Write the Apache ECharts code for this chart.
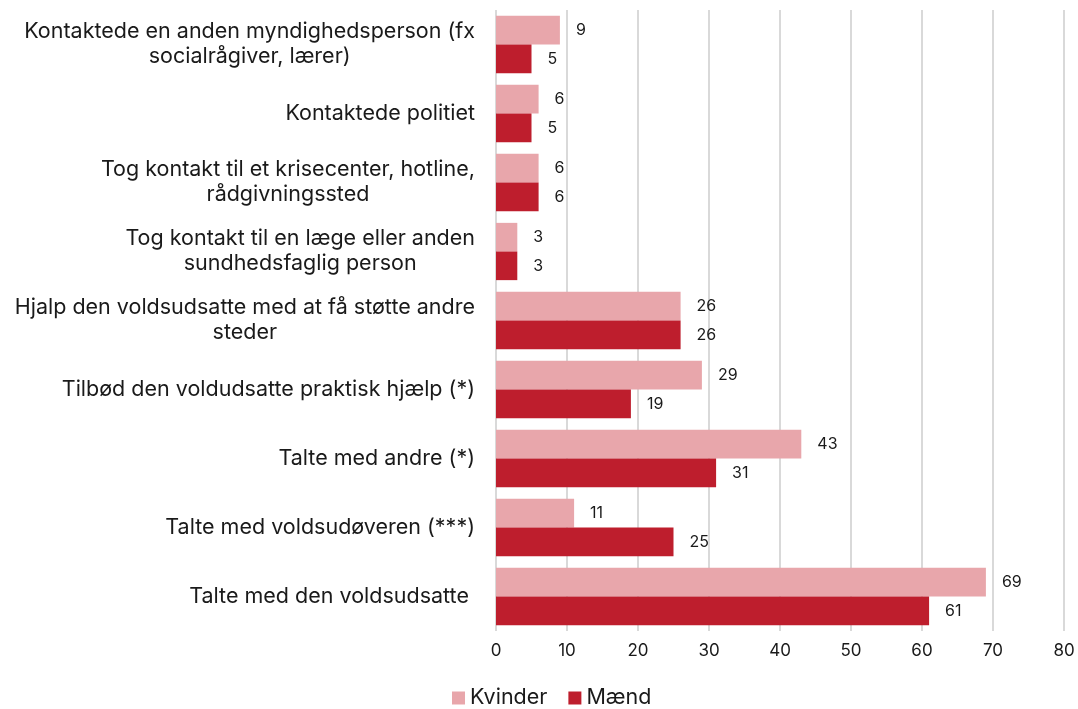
<!DOCTYPE html>
<html><head><meta charset="utf-8">
<script src="https://cdn.jsdelivr.net/npm/echarts@6/dist/echarts.min.js"></script>
<style>html,body{margin:0;padding:0;background:#fff}#c{width:1078px;height:709px}</style>
</head><body><div id="c"></div>
<script>
const categories = [
  "Kontaktede en anden myndighedsperson (fx\nsocialrågiver, lærer)",
  "Kontaktede politiet",
  "Tog kontakt til et krisecenter, hotline,\nrådgivningssted",
  "Tog kontakt til en læge eller anden\nsundhedsfaglig person",
  "Hjalp den voldsudsatte med at få støtte andre\nsteder",
  "Tilbød den voldudsatte praktisk hjælp (*)",
  "Talte med andre (*)",
  "Talte med voldsudøveren (***)",
  "Talte med den voldsudsatte "
];
const kvinder = [9, 6, 6, 3, 26, 29, 43, 11, 69];
const maend = [5, 5, 6, 3, 26, 19, 31, 25, 61];
const seriesNames = ["Kvinder", "Mænd"];
const xTicks = {min: 0, max: 80, interval: 10};

const font = "Inter, 'Noto Sans', sans-serif";
const chart = echarts.init(document.getElementById('c'), null, {renderer: 'canvas'});
const labelCfg = {show: true, position: 'right', distance: 16, color: '#1a1a1a', fontSize: 16, fontFamily: font};
chart.setOption({
  animation: false,
  grid: {left: 496, right: 14, top: 10, bottom: 78, containLabel: false},
  legend: {
    bottom: 0, left: 452, padding: 0, itemWidth: 13, itemHeight: 13, itemGap: 21,
    icon: 'rect',
    textStyle: {fontSize: 21.5, color: '#1a1a1a', fontFamily: font, padding: [0, 0, 0, 0]},
    data: seriesNames
  },
  xAxis: {
    type: 'value', min: xTicks.min, max: xTicks.max, interval: xTicks.interval,
    axisLine: {show: false}, axisTick: {show: false},
    splitLine: {show: true, lineStyle: {color: '#d9d9d9', width: 2}},
    axisLabel: {fontSize: 17, color: '#1a1a1a', fontFamily: font, margin: 11}
  },
  yAxis: {
    type: 'category', data: categories, inverse: true,
    axisLine: {show: false}, axisTick: {show: false},
    axisLabel: {
      margin: 21, align: 'right',
      formatter: function (v) {
        return v.split('\n').map(function (l) { return '{a|' + l + '}'; }).join('\n');
      },
      rich: {a: {fontSize: 21.5, color: '#1a1a1a', fontFamily: font, lineHeight: 25, align: 'center'}}
    }
  },
  series: [
    {name: seriesNames[0], type: 'bar', data: kvinder, barGap: '0%', barCategoryGap: '17%',
     itemStyle: {color: '#E8A6AB'}, label: labelCfg},
    {name: seriesNames[1], type: 'bar', data: maend, barGap: '0%', barCategoryGap: '17%',
     itemStyle: {color: '#BE1E2D'}, label: labelCfg}
  ]
});
</script></body></html>
